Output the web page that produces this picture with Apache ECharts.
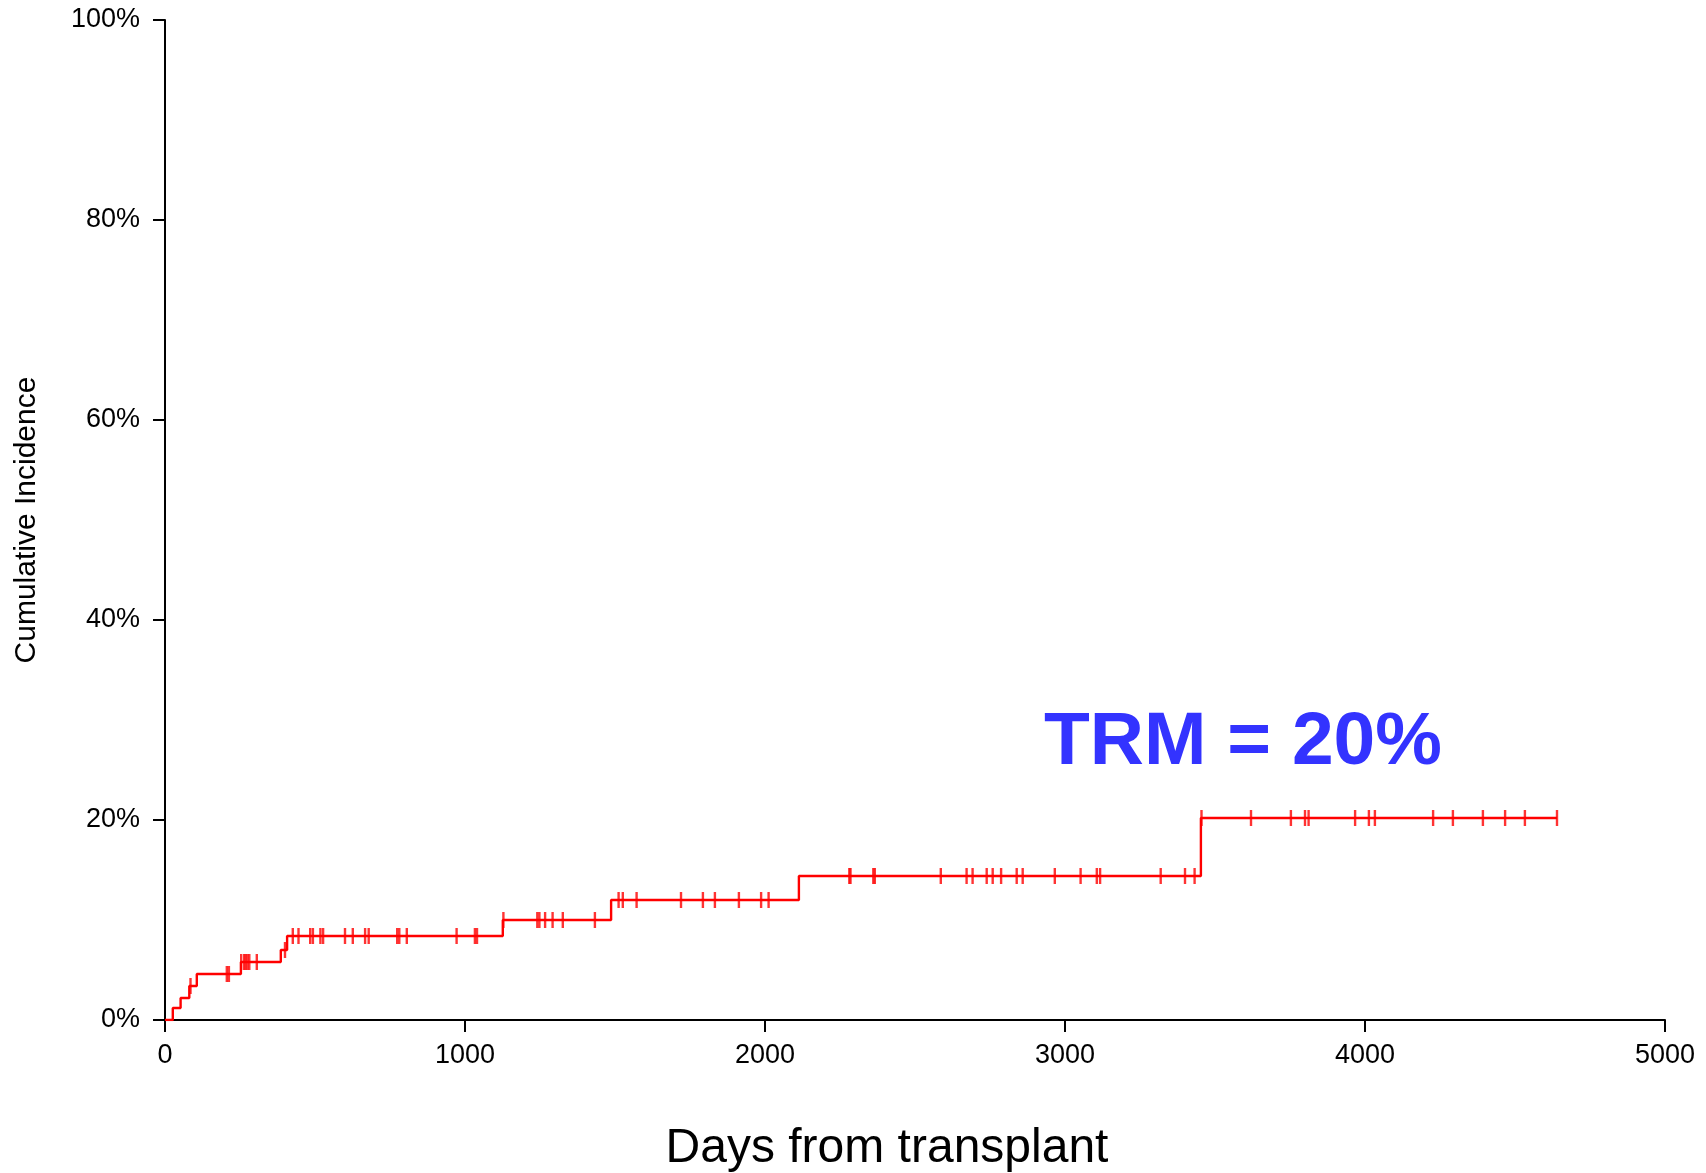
<!DOCTYPE html>
<html>
<head>
<meta charset="utf-8">
<title>Cumulative incidence of TRM</title>
<script src="https://cdn.jsdelivr.net/npm/echarts@6/dist/echarts.min.js"></script>
<style>
  html, body { margin: 0; padding: 0; background: #ffffff; }
  #chart { width: 1706px; height: 1173px; }
</style>
</head>
<body>
<div id="chart"></div>
<script>
// Event times (days) and cumulative incidence (%) reached at each event
const eventDays = [0, 26, 52, 81, 106, 253, 386, 407, 1126, 1487, 2113, 3453, 4640];
const eventIncidence = [0, 1.2, 2.2, 3.4, 4.6, 5.8, 7.0, 8.4, 10.0, 12.0, 14.4, 20.2, 20.2];

// Censoring times (days), shown as tick marks on the curve
const censorDays = [
  85, 206, 213, 254, 264, 269, 275, 281, 306, 400,
  426, 445, 484, 493, 518, 527, 600, 626, 667, 679, 774, 781, 806, 972, 1033, 1040,
  1128, 1241, 1248, 1267, 1292, 1326, 1433,
  1512, 1526, 1572, 1720, 1793, 1833, 1913, 1987, 2012,
  2281, 2285, 2361, 2366, 2586, 2672, 2692, 2739, 2759, 2787, 2839, 2859, 2966,
  3052, 3106, 3117, 3319, 3400, 3432,
  3455, 3620, 3753, 3800, 3812, 3967, 4013, 4033, 4227, 4293, 4393, 4467, 4533, 4640
];

const xTicks = [0, 1000, 2000, 3000, 4000, 5000];
const yTicks = [0, 20, 40, 60, 80, 100];
const annotationText = 'TRM = 20%';

// Curve level in effect at a given day
function levelAt(day) {
  let v = 0;
  for (let i = 0; i < eventDays.length; i++) {
    if (eventDays[i] <= day) v = eventIncidence[i];
  }
  return v;
}

const curveData = eventDays.map((d, i) => [d, eventIncidence[i]]);
const censorData = censorDays.map(d => [d, levelAt(d)]);

const FONT = 'Liberation Sans, Arial, Helvetica, sans-serif';
const chart = echarts.init(document.getElementById('chart'), null, { renderer: 'canvas' });

chart.setOption({
  animation: false,
  backgroundColor: '#ffffff',
  grid: { left: 165, right: 41, top: 20, bottom: 153 },
  xAxis: {
    type: 'value',
    min: xTicks[0],
    max: xTicks[xTicks.length - 1],
    interval: 1000,
    axisLine: { show: true, lineStyle: { color: '#000', width: 2 } },
    axisTick: { show: true, length: 12, lineStyle: { color: '#000', width: 2 } },
    axisLabel: {
      color: '#000', fontSize: 27, fontFamily: FONT, margin: 22,
      formatter: v => String(v)
    },
    splitLine: { show: false }
  },
  yAxis: {
    type: 'value',
    min: yTicks[0],
    max: yTicks[yTicks.length - 1],
    interval: 20,
    axisLine: { show: true, lineStyle: { color: '#000', width: 2 } },
    axisTick: { show: true, length: 12, lineStyle: { color: '#000', width: 2 } },
    axisLabel: { color: '#000', fontSize: 27, fontFamily: FONT, margin: 25, formatter: v => v + '%' },
    splitLine: { show: false }
  },
  graphic: [
    {
      type: 'text',
      x: 887, y: 1149,
      style: {
        text: 'Days from transplant',
        fill: '#000', font: '48px ' + FONT,
        textAlign: 'center', textVerticalAlign: 'middle'
      }
    },
    {
      type: 'text',
      x: 27, y: 520, rotation: Math.PI / 2,
      style: {
        text: 'Cumulative Incidence',
        fill: '#000', font: '30px ' + FONT,
        textAlign: 'center', textVerticalAlign: 'middle'
      }
    },
    {
      type: 'text',
      x: 1243, y: 743,
      style: {
        text: annotationText,
        fill: '#3333FF', font: 'bold 75px ' + FONT,
        textAlign: 'center', textVerticalAlign: 'middle'
      }
    }
  ],
  series: [
    {
      type: 'line',
      step: 'end',
      data: curveData,
      symbol: 'none',
      lineStyle: { color: '#FF0000', width: 2.4 },
      z: 3
    },
    {
      type: 'scatter',
      data: censorData,
      symbol: 'rect',
      symbolSize: [2.4, 16],
      itemStyle: { color: '#FF0000' },
      z: 4
    }
  ]
});
</script>
</body>
</html>
